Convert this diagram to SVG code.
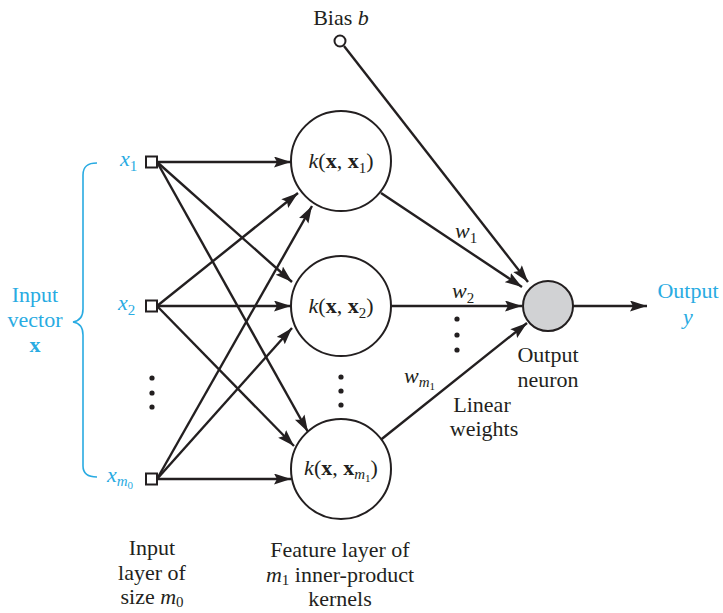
<svg xmlns="http://www.w3.org/2000/svg" width="723" height="613" viewBox="0 0 723 613">
<style>
  text { font-family: "Liberation Serif", "Times New Roman", serif; font-size: 22px; fill: #231f20; }
  .cyan { fill: #29abe2; }
  .it { font-style: italic; }
  .bd { font-weight: bold; }
  .sub { font-size: 15px; font-style: normal; font-weight: normal; }
  .subi { font-size: 15px; font-style: italic; font-weight: normal; }
  .ssub { font-size: 11px; font-style: normal; font-weight: normal; }
  .line { stroke: #231f20; stroke-width: 2.4; fill: none; }
  .node { stroke: #231f20; stroke-width: 2; fill: #fff; }
  .dot { fill: #231f20; }
</style>
<defs>
  <marker id="arr" markerUnits="userSpaceOnUse" markerWidth="18" markerHeight="12" refX="17" refY="5.5" orient="auto">
    <path d="M0,0 L17,5.5 L0,11 L3,5.5 z" fill="#231f20"/>
  </marker>
</defs>
<rect width="723" height="613" fill="#fff"/>

<g id="connectors">
  <line class="line" x1="157" y1="162" x2="291" y2="162" marker-end="url(#arr)"/>
  <line class="line" x1="157" y1="162" x2="292" y2="282" marker-end="url(#arr)"/>
  <line class="line" x1="157" y1="162" x2="308" y2="432" marker-end="url(#arr)"/>
  <line class="line" x1="157" y1="306" x2="298" y2="193" marker-end="url(#arr)"/>
  <line class="line" x1="157" y1="306" x2="291" y2="306" marker-end="url(#arr)"/>
  <line class="line" x1="157" y1="306" x2="294" y2="446" marker-end="url(#arr)"/>
  <line class="line" x1="157" y1="479" x2="312" y2="206" marker-end="url(#arr)"/>
  <line class="line" x1="157" y1="479" x2="292" y2="328" marker-end="url(#arr)"/>
  <line class="line" x1="157" y1="479" x2="291" y2="479" marker-end="url(#arr)"/>
  <line class="line" x1="344" y1="46" x2="528" y2="282" marker-end="url(#arr)"/>
  <line class="line" x1="381" y1="193" x2="522" y2="287" marker-end="url(#arr)"/>
  <line class="line" x1="391" y1="306" x2="522" y2="306" marker-end="url(#arr)"/>
  <line class="line" x1="378" y1="442" x2="527" y2="323" marker-end="url(#arr)"/>
  <line class="line" x1="573" y1="306" x2="647" y2="306" marker-end="url(#arr)"/>
</g>

<g id="input-brace">
  <path d="M97,163 C88,163 83,166 83,175 L83,309 C83,317 79,321 73,322 C79,323 83,327 83,335 L83,466 C83,474 88,477 97,477" fill="none" stroke="#29abe2" stroke-width="1.6"/>
  <text class="cyan" x="35" y="302" text-anchor="middle">Input</text>
  <text class="cyan" x="35" y="327" text-anchor="middle">vector</text>
  <text class="cyan bd" x="35" y="352" text-anchor="middle">x</text>
</g>

<g id="x1">
  <rect class="node" x="146" y="156.5" width="11" height="11"/>
  <text class="cyan it" x="120" y="166">x<tspan class="sub" dy="5">1</tspan></text>
</g>
<g id="x2">
  <rect class="node" x="146" y="300.5" width="11" height="11"/>
  <text class="cyan it" x="118" y="310">x<tspan class="sub" dy="5">2</tspan></text>
</g>
<g id="xm0">
  <rect class="node" x="146" y="473.5" width="11" height="11"/>
  <text class="cyan it" x="107" y="482">x<tspan class="subi" dy="4">m</tspan><tspan class="ssub" dy="3">0</tspan></text>
</g>
<g id="input-dots">
  <circle class="dot" cx="152" cy="378" r="2.6"/>
  <circle class="dot" cx="152" cy="393" r="2.6"/>
  <circle class="dot" cx="152" cy="407" r="2.6"/>
</g>

<g id="k1">
  <circle class="node" cx="341" cy="161" r="50"/>
  <text x="341" y="168" text-anchor="middle"><tspan class="it">k</tspan>(<tspan class="bd">x</tspan>, <tspan class="bd">x</tspan><tspan class="sub" dy="5">1</tspan><tspan dy="-5">)</tspan></text>
</g>
<g id="k2">
  <circle class="node" cx="341" cy="306" r="50"/>
  <text x="341" y="313" text-anchor="middle"><tspan class="it">k</tspan>(<tspan class="bd">x</tspan>, <tspan class="bd">x</tspan><tspan class="sub" dy="5">2</tspan><tspan dy="-5">)</tspan></text>
</g>
<g id="k3">
  <circle class="node" cx="341" cy="469" r="50"/>
  <text x="341" y="475" text-anchor="middle"><tspan class="it">k</tspan>(<tspan class="bd">x</tspan>, <tspan class="bd">x</tspan><tspan class="subi" dy="4">m</tspan><tspan class="ssub" dy="3">1</tspan><tspan dy="-7">)</tspan></text>
</g>
<g id="kernel-dots">
  <circle class="dot" cx="341" cy="377" r="2.6"/>
  <circle class="dot" cx="341" cy="391" r="2.6"/>
  <circle class="dot" cx="341" cy="405" r="2.6"/>
</g>

<g id="bias">
  <circle class="node" cx="340" cy="41" r="5.5"/>
  <text x="341" y="25" text-anchor="middle">Bias <tspan class="it">b</tspan></text>
</g>

<g id="output-neuron">
  <circle cx="548" cy="306" r="25" fill="#d1d2d4" stroke="#231f20" stroke-width="2"/>
  <text x="548" y="362" text-anchor="middle">Output</text>
  <text x="548" y="387" text-anchor="middle">neuron</text>
</g>

<g id="weights">
  <text class="it" x="455" y="238">w<tspan class="sub" dy="5">1</tspan></text>
  <text class="it" x="452" y="298">w<tspan class="sub" dy="5">2</tspan></text>
  <circle class="dot" cx="457" cy="319" r="2.6"/>
  <circle class="dot" cx="457" cy="335" r="2.6"/>
  <circle class="dot" cx="457" cy="350" r="2.6"/>
  <text class="it" x="404" y="383">w<tspan class="subi" dy="4">m</tspan><tspan class="ssub" dy="3">1</tspan></text>
  <text x="482" y="412" text-anchor="middle">Linear</text>
  <text x="484" y="436" text-anchor="middle">weights</text>
</g>

<g id="output">
  <text class="cyan" x="688" y="298" text-anchor="middle">Output</text>
  <text class="cyan it" x="688" y="324" text-anchor="middle">y</text>
</g>

<g id="bottom-labels">
  <text x="152" y="555" text-anchor="middle">Input</text>
  <text x="152" y="580" text-anchor="middle">layer of</text>
  <text x="152" y="604" text-anchor="middle">size <tspan class="it">m</tspan><tspan class="sub" dy="3">0</tspan></text>
  <text x="340" y="557" text-anchor="middle">Feature layer of</text>
  <text x="340" y="582" text-anchor="middle"><tspan class="it">m</tspan><tspan class="sub" dy="3">1</tspan><tspan dy="-3"> inner-product</tspan></text>
  <text x="340" y="606" text-anchor="middle">kernels</text>
</g>
</svg>
